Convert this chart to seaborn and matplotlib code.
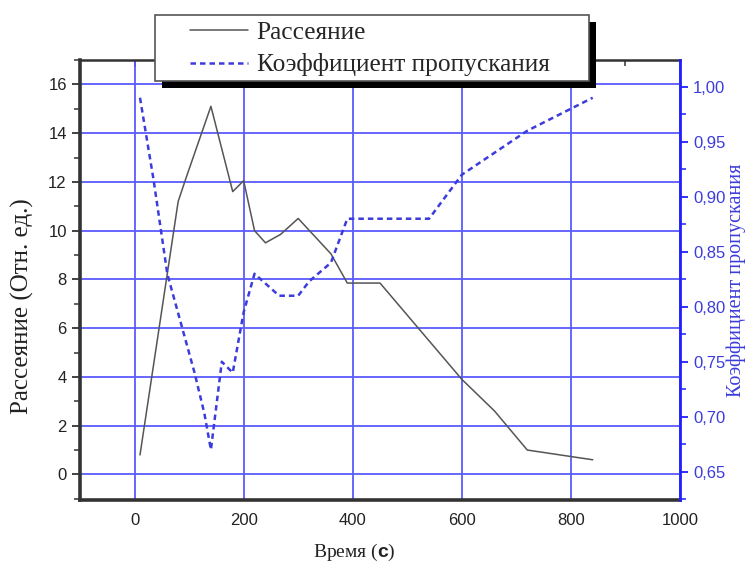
"""
Scattering vs. transmission coefficient over time (twin y axes).
"""

import matplotlib.pyplot as plt
import pandas as pd
import seaborn as sns
from matplotlib.patches import Rectangle
from matplotlib.lines import Line2D
from matplotlib.ticker import MultipleLocator, FuncFormatter

# Рассеяние (left axis)
scat_time = [10, 80, 95, 140, 180, 200, 220, 240, 268, 300, 360, 390, 450, 600, 660, 720, 840]
scat_vals = [0.8, 11.2, 12.2, 15.1, 11.6, 12.05, 10.0, 9.5, 9.85, 10.5, 9.05, 7.85, 7.85, 3.9, 2.6, 1.0, 0.6]

# Коэффициент пропускания (right axis)
trans_time = [10, 35, 60, 110, 128, 140, 160, 180, 200, 220, 265, 300, 320, 360, 390, 540, 600, 660, 720, 840]
trans_vals = [0.99, 0.915, 0.83, 0.74, 0.703, 0.67, 0.75, 0.74, 0.795, 0.83, 0.81, 0.81, 0.823, 0.84, 0.88, 0.88, 0.92, 0.94, 0.96, 0.99]

x_ticks = [0, 200, 400, 600, 800, 1000]
left_ticks = [0, 2, 4, 6, 8, 10, 12, 14, 16]
right_ticks = [0.65, 0.70, 0.75, 0.80, 0.85, 0.90, 0.95, 1.00]

LEGEND_LABELS = ["Рассеяние", "Коэффициент пропускания"]
BLUE = "#3c3cdc"
AXIS_BLUE = "#2020ff"
GRID_BLUE = "#5a5aff"
DARK = "#333333"
SERIF = ["Liberation Serif", "DejaVu Serif"]
DASH = (0, (2.2, 1.6))

sns.set_style("white")
plt.rcParams["font.family"] = ["Liberation Sans", "DejaVu Sans"]
plt.rcParams["mathtext.fontset"] = "custom"
plt.rcParams["mathtext.bf"] = "Liberation Sans:bold"

W, H = 748, 569
fig = plt.figure(figsize=(W / 100, H / 100), dpi=100)
ax = fig.add_axes([80 / W, 69 / H, 600 / W, 440 / H])
ax2 = ax.twinx()

df_s = pd.DataFrame({"t": scat_time, "v": scat_vals})
df_t = pd.DataFrame({"t": trans_time, "v": trans_vals})

sns.lineplot(data=df_s, x="t", y="v", ax=ax, color="#555555", linewidth=1.1, zorder=3)
sns.lineplot(data=df_t, x="t", y="v", ax=ax2, color=BLUE, linewidth=1.8,
             linestyle=DASH, zorder=3)

ax.set_xlim(-100, 1000)
ax.set_ylim(-1.05, 17.0)
ax2.set_ylim(0.6243, 1.0243)

ax.set_xticks(x_ticks)
ax.xaxis.set_minor_locator(MultipleLocator(100))
ax.set_yticks(left_ticks)
ax.yaxis.set_minor_locator(MultipleLocator(1))
ax2.set_yticks(right_ticks)
ax2.yaxis.set_minor_locator(MultipleLocator(0.025))
ax2.yaxis.set_major_formatter(FuncFormatter(lambda v, _: f"{v:.2f}".replace(".", ",")))

# grid
ax.grid(True, which="major", color=GRID_BLUE, linewidth=1.3)
ax.set_axisbelow(True)
ax2.grid(False)

# spines
for side in ["left", "bottom"]:
    ax.spines[side].set_color(DARK)
    ax.spines[side].set_linewidth(2.6)
ax.spines["top"].set_color(DARK)
ax.spines["top"].set_linewidth(1.8)
ax.spines["right"].set_visible(False)
for side in ["left", "bottom", "top"]:
    ax2.spines[side].set_visible(False)
ax2.spines["right"].set_color(AXIS_BLUE)
ax2.spines["right"].set_linewidth(2.0)

ax.tick_params(axis="both", which="major", direction="out", length=6, width=1.3,
               color=DARK, labelsize=12, labelcolor="#222222")
ax.tick_params(axis="both", which="minor", direction="out", length=4, width=1.1, color=DARK)
ax2.tick_params(axis="y", which="major", direction="out", length=6, width=1.3,
                color=AXIS_BLUE, labelsize=12, labelcolor=BLUE)
ax2.tick_params(axis="y", which="minor", direction="out", length=4, width=1.1, color=AXIS_BLUE)

# top axis: inward ticks, no labels
top = ax.secondary_xaxis("top")
top.set_xticks(x_ticks)
top.xaxis.set_minor_locator(MultipleLocator(100))
top.tick_params(which="both", direction="in", labeltop=False, color=DARK)
top.tick_params(which="major", length=5, width=1.3)
top.tick_params(which="minor", length=4, width=1.1)
top.spines["top"].set_visible(False)

ax.set_xlabel("Время ($\\mathbf{с}$)", family=SERIF, fontsize=14, color="#222222")
ax.set_ylabel("Рассеяние (Отн. ед.)", family=SERIF, fontsize=18, color="#222222")
ax2.set_ylabel("Коэффициент пропускания", family=SERIF, fontsize=14.5, color=BLUE)
ax.xaxis.set_label_coords(0.457, -0.095)
ax.yaxis.set_label_coords(-0.076, 0.44)
ax2.yaxis.set_label_coords(1.078, 0.5)

# legend box with hard shadow
shadow = Rectangle(((155 + 7) / W, 1 - (81 + 7) / H), 434 / W, 66 / H,
                   transform=fig.transFigure, facecolor="black", edgecolor="none", zorder=6)
frame = Rectangle((155 / W, 1 - 81 / H), 434 / W, 66 / H, transform=fig.transFigure,
                  facecolor="white", edgecolor="#555555", linewidth=1.2, zorder=7)
fig.add_artist(shadow)
fig.add_artist(frame)

handles = [
    Line2D([], [], color="#555555", linewidth=1.1),
    Line2D([], [], color=BLUE, linewidth=1.8, linestyle=DASH),
]
leg = fig.legend(handles, LEGEND_LABELS, loc="upper left",
                 bbox_to_anchor=(190 / W, 1 - 21 / H), frameon=False,
                 borderpad=0, borderaxespad=0, handlelength=2.3, handletextpad=0.32,
                 labelspacing=0.38, prop={"family": SERIF, "size": 18.3})
leg.set_zorder(8)

fig.savefig("out.png", dpi=100)
plt.close(fig)
